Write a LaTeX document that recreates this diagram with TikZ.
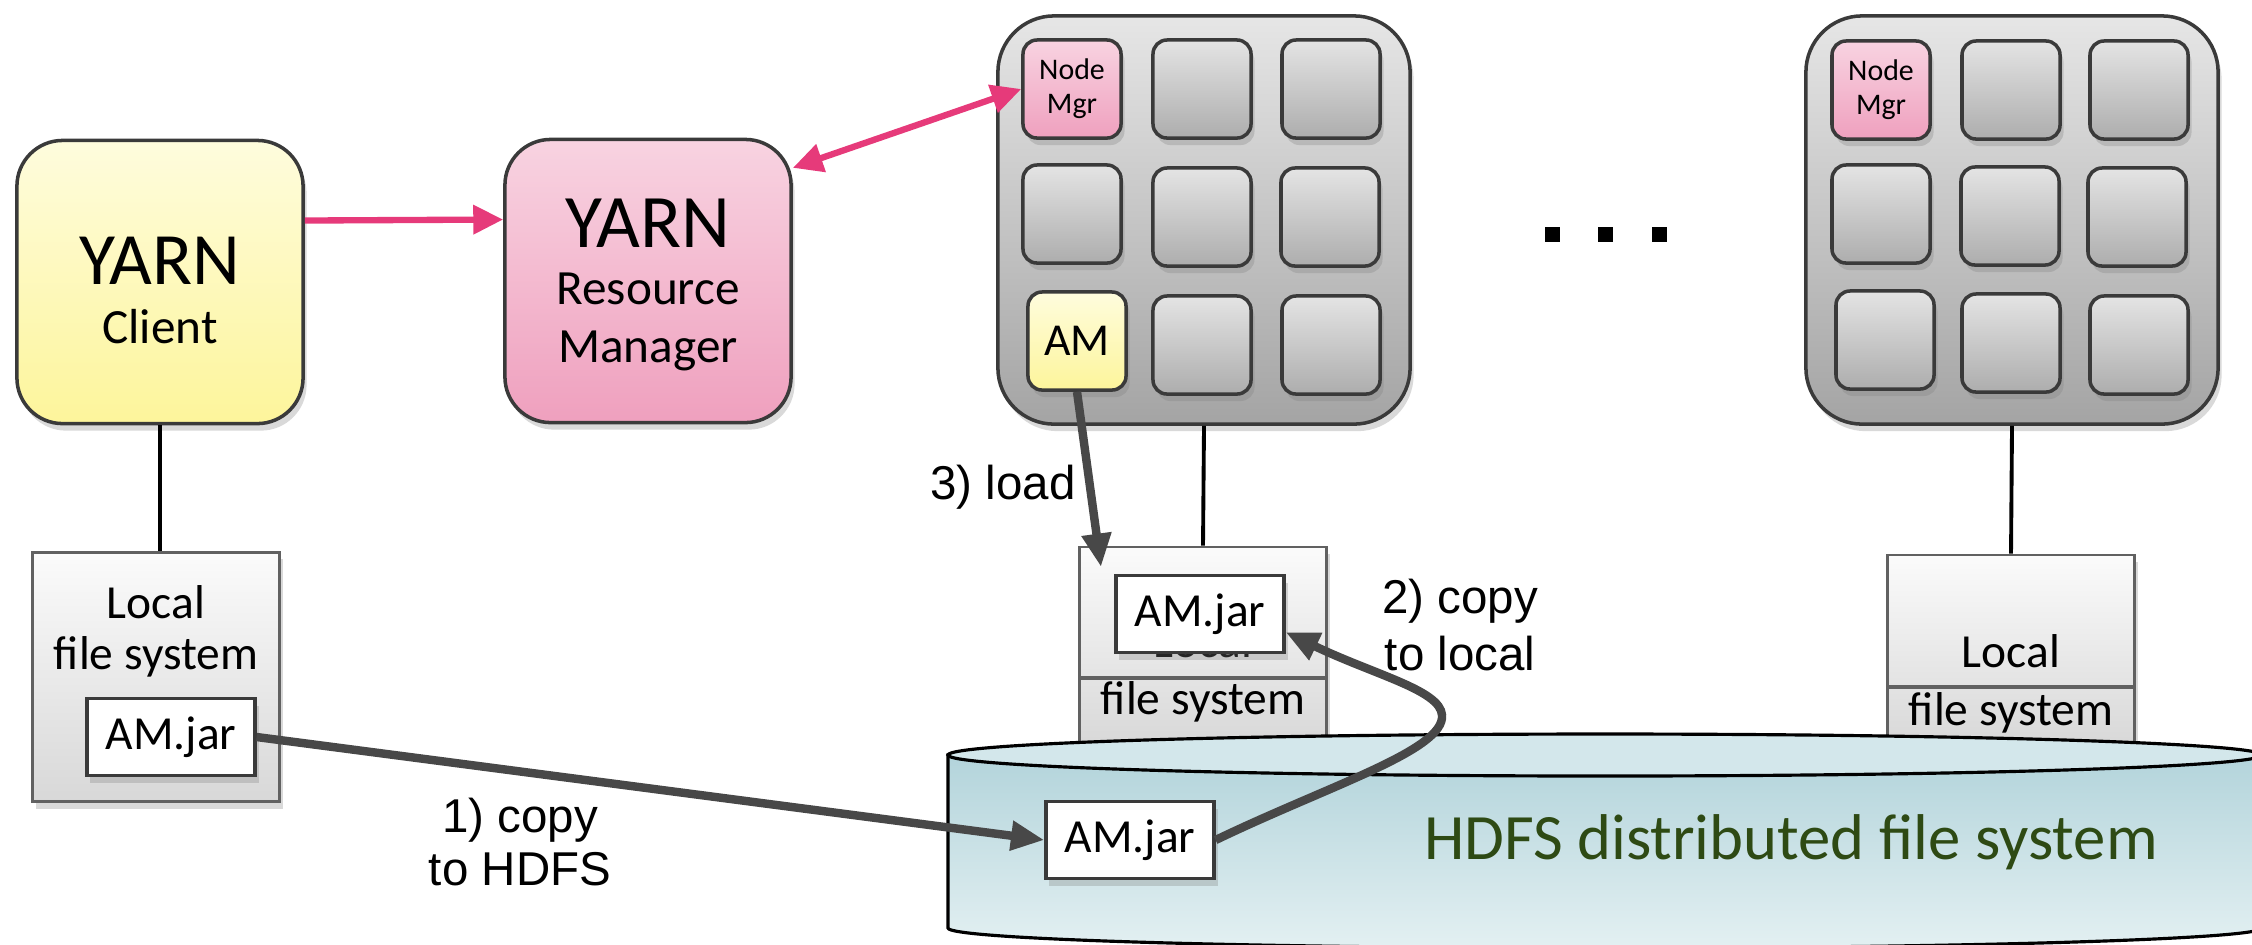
\documentclass[tikz,border=0pt]{standalone}
\usepackage{fontspec}
\setmainfont{Carlito}
\newfontfamily\helv{Liberation Sans}
\usetikzlibrary{arrows.meta,shadows}

\definecolor{clienttop}{HTML}{FEFCDD}
\definecolor{clientbot}{HTML}{FDF59B}
\definecolor{rmtop}{HTML}{F8D3E1}
\definecolor{rmbot}{HTML}{EFA0BE}
\definecolor{grayhi}{HTML}{E6E6E6}
\definecolor{graylo}{HTML}{A4A4A4}
\definecolor{celltop}{HTML}{E4E4E4}
\definecolor{cellbot}{HTML}{ADADAD}
\definecolor{fstop}{HTML}{FBFBFB}
\definecolor{fsbot}{HTML}{D8D8D8}
\definecolor{cyltop}{HTML}{B3D4DB}
\definecolor{cylbot}{HTML}{E3F0F2}
\definecolor{cylcap}{HTML}{D3E7EB}
\definecolor{yarnpink}{HTML}{E63A7A}
\definecolor{darkarrow}{HTML}{484848}
\definecolor{hdfsgreen}{HTML}{2E4A14}
\definecolor{boxline}{HTML}{3A3A3A}

\tikzset{
    softshadow/.style={drop shadow={shadow xshift=1pt,shadow yshift=-2pt,opacity=0.3}},
    yarnbox/.style={draw=boxline,line width=1pt,rounded corners=13pt,
        minimum width=2.86cm,minimum height=2.83cm,inner sep=0pt,align=center,softshadow},
    nodebox/.style={draw=boxline,line width=1pt,rounded corners=16pt,
        top color=grayhi,bottom color=graylo,minimum width=4.12cm,minimum height=4.08cm,softshadow},
    cellbox/.style={draw=boxline,line width=1pt,rounded corners=4pt,
        top color=celltop,bottom color=cellbot,minimum size=0.98cm,inner sep=0pt,align=center,softshadow},
    fsbox/.style={draw=black!62,line width=0.8pt,top color=fstop,bottom color=fsbot,
        minimum width=2.47cm,softshadow},
    jarbox/.style={draw=boxline,line width=0.9pt,fill=white,minimum width=1.68cm,
        minimum height=0.77cm,inner sep=0pt,softshadow},
    divider/.style={black!62,line width=1.2pt},
    link/.style={black,line width=1.1pt},
    pinkarrow/.style={yarnpink,line width=1.8pt,-{Triangle[length=8.5pt,width=8pt]}},
    copyarrow/.style={darkarrow,line width=2.4pt,-{Triangle[length=9.5pt,width=8pt]}},
    steplabel/.style={font=\helv\fontsize{13.5}{15}\selectfont,align=center}
}

\begin{document}
\begin{tikzpicture}[x=0.01cm,y=-0.01cm,font=\fontsize{13.5}{16.8}\selectfont]
    \useasboundingbox (0,0) rectangle (2252,944);
    %% Client side
    \node[yarnbox,top color=clienttop,bottom color=clientbot,font=\fontsize{14}{16.8}\selectfont] (cl) at (160,282)
        {\rule{0pt}{18.2pt}{\fontsize{21}{21}\selectfont YARN}\\Client};
    \node[fsbox,minimum height=2.49cm] (lf1) at (156,677) {};
    \node[anchor=base] (lf1a) at (156,618) {Local};
    \node[anchor=base] (lf1b) at (156,669) {file system};
    \node[jarbox] (jar1) at (171,737) {AM.jar};
        \draw[link] (cl.south) -- (cl.south |- lf1.north);
    %% Resource manager
    \node[yarnbox,top color=rmtop,bottom color=rmbot,font=\fontsize{14}{16.4}\selectfont] (rm) at (648,281)
        {\rule{0pt}{16pt}{\fontsize{21.5}{21.5}\selectfont YARN}\\Resource\\Manager};
    %% Node 1
    \node[nodebox] (n1) at (1204,220) {};
    \node[cellbox,top color=rmtop,bottom color=rmbot,font=\fontsize{8.5}{9.7}\selectfont] (nm1) at (1072,89) {Node\\Mgr};
    \node[cellbox] (c12) at (1202,89) {};
    \node[cellbox] (c13) at (1331,89) {};
    \node[cellbox] (c21) at (1072,214) {};
    \node[cellbox] (c22) at (1202,217) {};
    \node[cellbox] (c23) at (1330,217) {};
    \node[cellbox,top color=clienttop,bottom color=clientbot,font=\fontsize{13}{14}\selectfont] (am1) at (1077,341) {AM};
    \node[cellbox] (c32) at (1202,345) {};
    \node[cellbox] (c33) at (1331,345) {};
    \node[fsbox,minimum height=1.98cm] (lf2) at (1203,646) {};
        \draw[divider] (1081,678) -- (1325,678);
    \node[anchor=base] (lf2a) at (1203,657) {Local};
    \node[anchor=base] (lf2b) at (1203,714) {file system};
    \node[jarbox] (jar2) at (1200,614) {AM.jar};
        \draw[link] (n1.south) -- (lf2.north);
    %% dots
    \fill (1545,227) rectangle (1560,242);
    \fill (1598,227) rectangle (1613,242);
    \fill (1652,227) rectangle (1667,242);
    %% Node 3
    \node[nodebox] (n3) at (2012,220) {};
    \node[cellbox,top color=rmtop,bottom color=rmbot,font=\fontsize{8.5}{9.7}\selectfont] (nm3) at (1881,90) {Node\\Mgr};
    \node[cellbox] (d12) at (2011,90) {};
    \node[cellbox] (d13) at (2139,90) {};
    \node[cellbox] (d21) at (1881,214) {};
    \node[cellbox] (d22) at (2010,216) {};
    \node[cellbox] (d23) at (2137,217) {};
    \node[cellbox] (d31) at (1885,340) {};
    \node[cellbox] (d32) at (2011,343) {};
    \node[cellbox] (d33) at (2139,345) {};
    \node[fsbox,minimum height=1.90cm] (lf3) at (2011,650) {};
        \draw[divider] (1888,687) -- (2134,687);
    \node[anchor=base] (lf3a) at (2011,667) {Local};
    \node[anchor=base] (lf3b) at (2011,725) {file system};
        \draw[link] (n3.south) -- (lf3.north);
    %% HDFS
    \begin{scope}
        \clip (0,0) rectangle (2252,944);
        \draw[black,line width=0.9pt,top color=cyltop,bottom color=cylbot]
            (948,755) -- (948,928) arc[start angle=180,end angle=0,x radius=657,y radius=20] -- (2262,755) -- cycle;
        \draw[black,line width=0.9pt,fill=cylcap] (1605,755) ellipse [x radius=657,y radius=21];
    \end{scope}
    \node[text=hdfsgreen,font=\fontsize{18.4}{20}\selectfont] (hdfs) at (1791,842) {HDFS distributed file system};
    \node[jarbox] (jar3) at (1130,840) {AM.jar};
    %% Arrows
    \draw[pinkarrow] (cl.23) -- (rm.157);
    \draw[pinkarrow,{Triangle[length=8.5pt,width=8pt]}-{Triangle[length=8.5pt,width=8pt]}] (rm.38) -- (nm1.west);
    \coordinate (loadtip) at (1101,567);
    \draw[copyarrow] (am1.south) -- (loadtip);
    \node[steplabel,anchor=east] (ld) at (1088,487) {3) load};
    \draw[copyarrow] (jar1.east) -- (jar3.west);
    \node[steplabel] (cp1) at (520,842) {1) copy\\to HDFS};
    \draw[copyarrow] (jar3.east) .. controls (1330,785) and (1445,750) .. (1442,715)
        .. controls (1440,690) and (1375,675) .. (jar2.-12);
    \node[steplabel,font=\helv\fontsize{13.5}{16.2}\selectfont] (cp2) at (1460,625) {2) copy\\to local};
\end{tikzpicture}
\end{document}
